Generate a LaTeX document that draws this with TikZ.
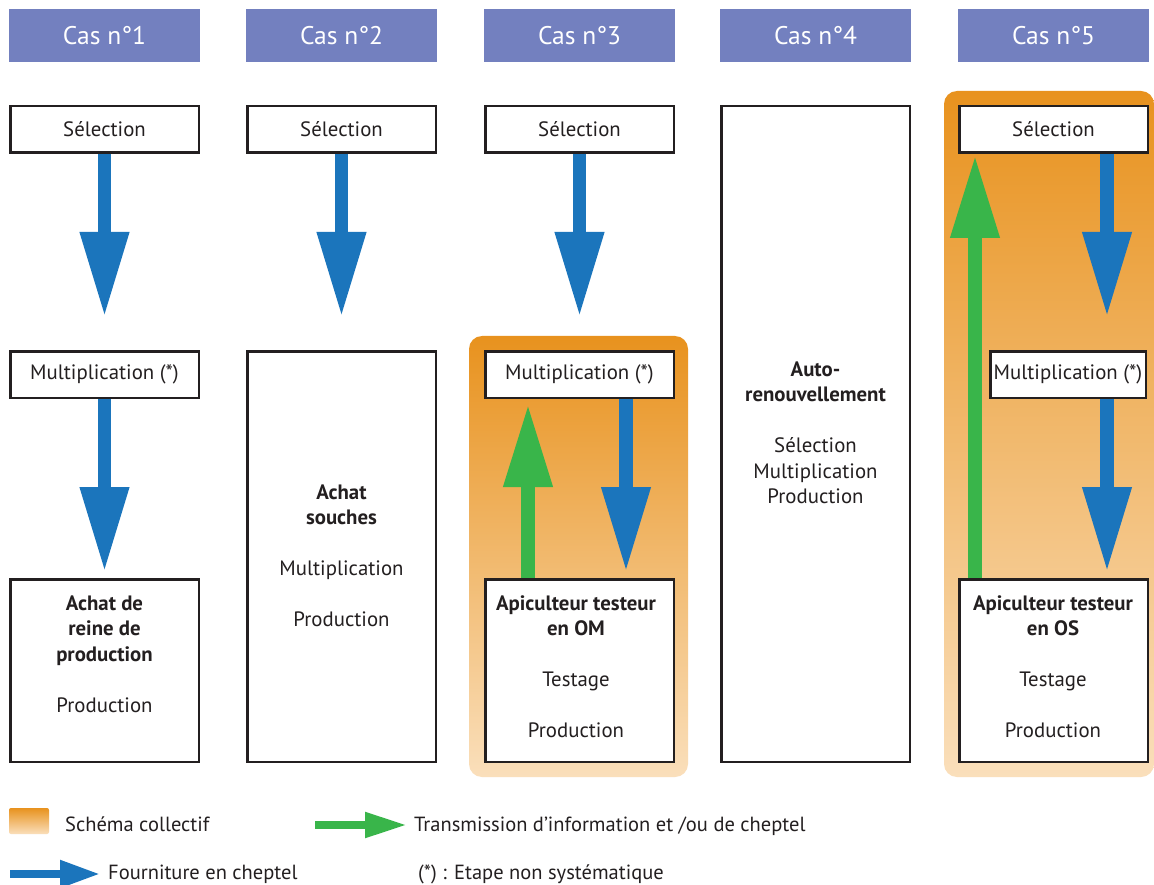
\documentclass[tikz,border=0pt]{standalone}
\usepackage{fontspec}
\setmainfont{PT Sans}
\usetikzlibrary{arrows.meta}
\definecolor{hdr}{RGB}{115,128,191}
\definecolor{ink}{RGB}{35,31,32}
\definecolor{fblue}{RGB}{27,117,188}
\definecolor{fgreen}{RGB}{57,181,74}
\definecolor{otop}{RGB}{232,146,30}
\definecolor{obot}{RGB}{250,223,187}
\begin{document}
\begin{tikzpicture}[x=1pt,y=-1pt,
  hdrbox/.style={fill=hdr, minimum width=191pt, minimum height=53pt, inner sep=0pt, text=white, font=\fontsize{25.5}{30}\selectfont},
  stagebox/.style={draw=ink, line width=2.5pt, fill=white, minimum width=188.5pt, inner sep=0pt, text=ink, font=\fontsize{20.8}{25.5}\selectfont},
  bodytxt/.style={text=ink, align=center, inner sep=0pt, font=\fontsize{20.8}{25.5}\selectfont},
  legtxt/.style={text=ink, inner sep=0pt, font=\fontsize{20.5}{25.5}\selectfont},
  group/.style={rounded corners=13pt, top color=otop, bottom color=obot, inner sep=0pt},
  supply/.style={draw=fblue, line width=13.5pt, -{Triangle[width=46pt,length=85pt]}},
  info/.style={draw=fgreen, line width=13.5pt, -{Triangle[width=46pt,length=83pt]}},
]
\fill[white] (0,0) rectangle (1154,885);
\useasboundingbox (0,0) rectangle (1154,885);

% collective schema backgrounds
\node[group, minimum width=219pt, minimum height=441pt] (g3) at (578.5,556.5) {};
\node[group, minimum width=210pt, minimum height=686pt] (g5) at (1049,434) {};

% headers
\node[hdrbox] (h1) at (104.5,35.5) {Cas n°1};
\node[hdrbox] (h2) at (341.5,35.5) {Cas n°2};
\node[hdrbox] (h3) at (579.5,35.5) {Cas n°3};
\node[hdrbox] (h4) at (815.5,35.5) {Cas n°4};
\node[hdrbox] (h5) at (1053.5,35.5) {Cas n°5};

% selection boxes
\node[stagebox, minimum height=46.5pt] (sel1) at (104.5,129.5) {Sélection};
\node[stagebox, minimum height=46.5pt] (sel2) at (341.5,129.5) {Sélection};
\node[stagebox, minimum height=46.5pt] (sel3) at (579.5,129.5) {Sélection};
\node[stagebox, minimum height=46.5pt] (sel5) at (1053.5,129.5) {Sélection};

% multiplication boxes
\node[stagebox, minimum height=46.5pt] (mul1) at (104.5,374.5) {Multiplication (*)};
\node[stagebox, minimum height=46.5pt] (mul3) at (579.5,374.5) {Multiplication (*)};
\node[stagebox, minimum height=46.5pt, minimum width=155.5pt] (mul5) at (1068,374.5) {Multiplication (*)};

% bottom / tall boxes
\node[stagebox, minimum height=182.5pt] (bot1) at (104.5,670.5) {};
\node[stagebox, minimum height=182.5pt] (bot3) at (579.5,670.5) {};
\node[stagebox, minimum height=182.5pt] (bot5) at (1053.5,670.5) {};
\node[stagebox, minimum height=410.5pt] (big2) at (341.5,556.5) {};
\node[stagebox, minimum height=655.5pt] (big4) at (815.5,434) {};

% box texts
\node[bodytxt] (t1) at (104.5,654) {\textbf{Achat de}\\\textbf{reine de}\\\textbf{production}\\[25.5pt]Production};
\node[bodytxt] (t2) at (341.5,556) {\textbf{Achat}\\\textbf{souches}\\[25.5pt]Multiplication\\[25.5pt]Production};
\node[bodytxt] (t3) at (576,666.5) {\textbf{Apiculteur testeur}\\\textbf{en OM}\\[25.5pt]Testage\\[25.5pt]Production};
\node[bodytxt] (t4) at (815.5,433) {\textbf{Auto-}\\\textbf{renouvellement}\\[25.5pt]Sélection\\Multiplication\\Production};
\node[bodytxt] (t5) at (1053,666.5) {\textbf{Apiculteur testeur}\\\textbf{en OS}\\[25.5pt]Testage\\[25.5pt]Production};

% supply arrows
\draw[supply, shorten >=33pt] (sel1) -- (mul1);
\draw[supply, shorten >=6pt] (mul1) -- (bot1);
\draw[supply, shorten >=33pt] (sel2) -- (big2);
\draw[supply, shorten >=33pt] (sel3) -- (mul3);
\coordinate (b3x) at ([xshift=46.5pt]mul3.south);
\draw[supply, shorten >=6pt] (b3x) -- (b3x |- bot3.north);
\coordinate (b5x) at ([xshift=53.5pt]sel5.south);
\draw[supply, shorten >=33pt] (b5x) -- (b5x |- mul5.north);
\coordinate (b5y) at (b5x |- mul5.south);
\draw[supply, shorten >=6pt] (b5y) -- (b5y |- bot5.north);

% information arrows
\coordinate (g3x) at ([xshift=-51.5pt]bot3.north);
\draw[info, shorten >=5pt] (g3x) -- (g3x |- mul3.south);
\coordinate (g5x) at ([xshift=-78.5pt]bot5.north);
\draw[info, shorten >=1pt] (g5x) -- (g5x |- sel5.south);

% legend
\node[group, rounded corners=2pt, minimum width=40pt, minimum height=26pt] (lg) at (29,821) {};
\node[legtxt, anchor=base west] (lgt) at (65,831) {Schéma collectif};
\node[legtxt, anchor=base west] (lit) at (414,831) {Transmission d’information et /ou de cheptel};
\coordinate (lia) at (315,825);
\draw[draw=fgreen, line width=8pt, -{Triangle[width=24pt,length=42pt]}] (lia) -- ([xshift=-7pt]lia -| lit.west);
\node[legtxt, anchor=base west] (lst) at (108,879) {Fourniture en cheptel};
\coordinate (lsa) at (10,874);
\draw[draw=fblue, line width=8pt, -{Triangle[width=26pt,length=40pt]}] (lsa) -- ([xshift=-8pt]lsa -| lst.west);
\node[legtxt, anchor=base west] (lnt) at (418,879) {(*) : Etape non systématique};
\end{tikzpicture}
\end{document}
